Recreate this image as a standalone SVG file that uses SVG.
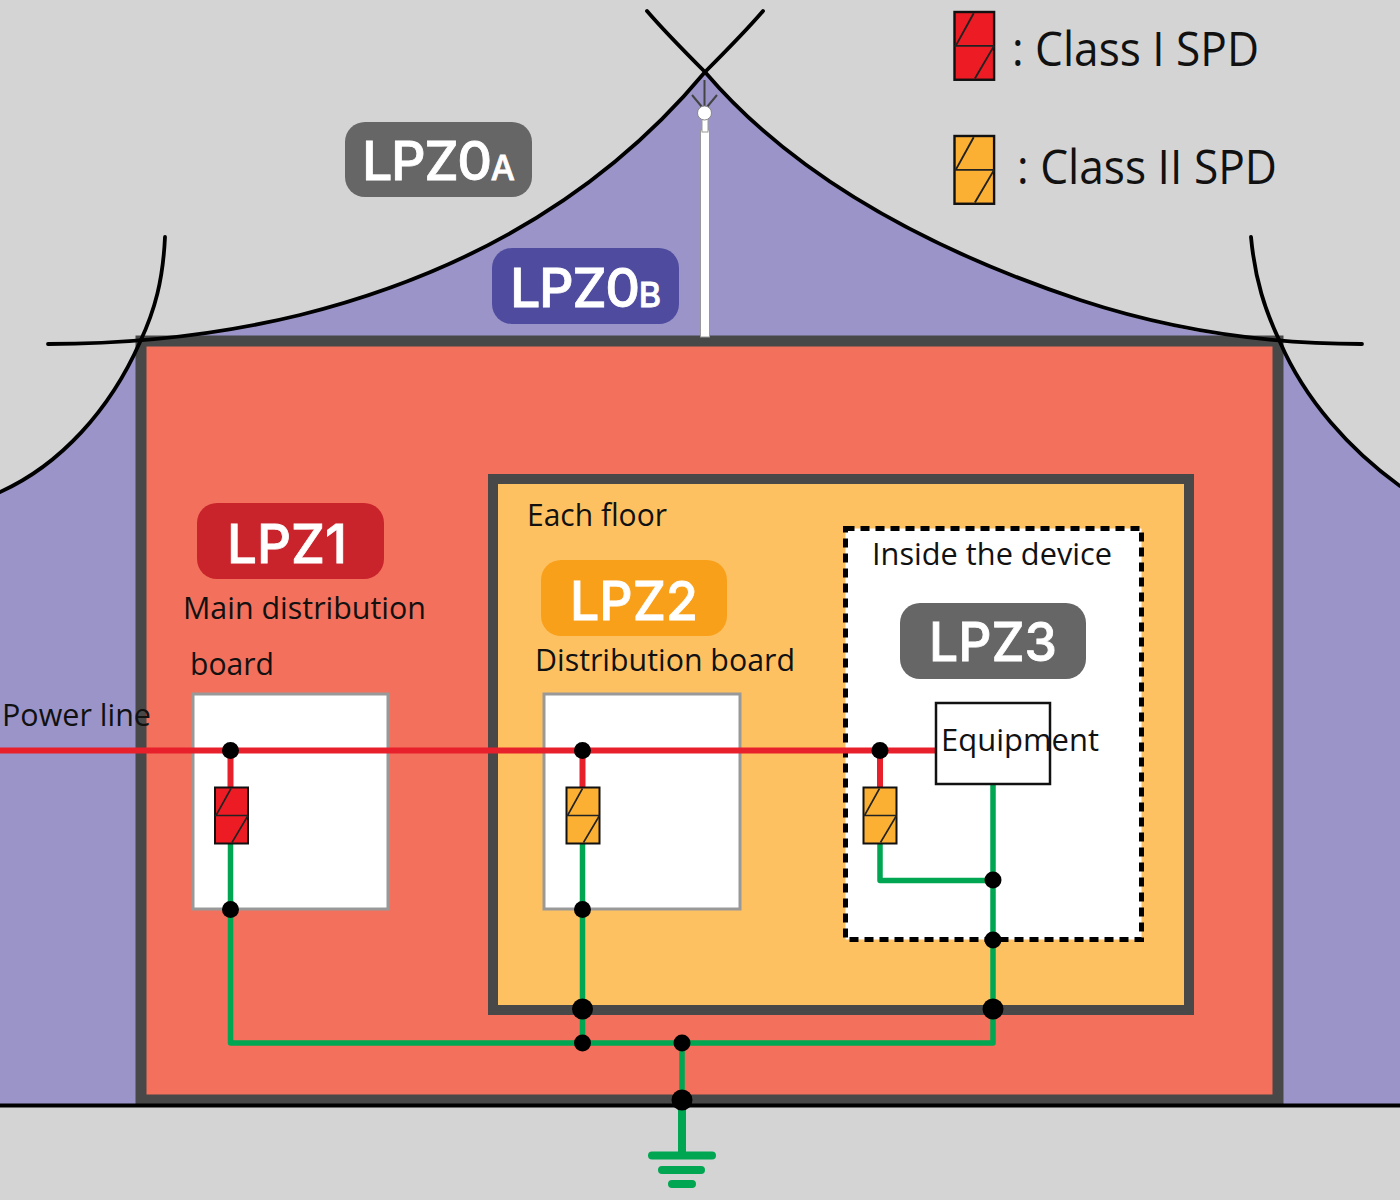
<svg xmlns="http://www.w3.org/2000/svg" width="1400" height="1200" viewBox="0 0 1400 1200">
<style>
.t{font-family:"Open Sans","Noto Sans","Liberation Sans",sans-serif;fill:#111;font-size:31px}
.lg{font-family:"Open Sans","Noto Sans","Liberation Sans",sans-serif;fill:#111;font-size:47px}
.b{font-family:Inter,"Liberation Sans",sans-serif;fill:#fff;font-size:54px;font-weight:500;stroke:#fff;stroke-width:.8}
.z{letter-spacing:-1.5px}
.s{font-size:34px}
.arc{fill:none;stroke:#000;stroke-width:3.800;stroke-linecap:round}
.r{fill:none;stroke:#e8202c;stroke-width:6}
.g{fill:none;stroke:#00a651;stroke-width:5.500;stroke-linejoin:round}
.spd{stroke:#111;stroke-width:2}
.diag{fill:none;stroke:#222;stroke-width:1.6}
.box{fill:#fff;stroke:#999;stroke-width:3}
</style>
<defs>
<g id="sym">
<rect class="spd" x="0" y="0" width="33" height="56"/>
<path class="diag" d="M0 28H33M16 1L1 28M33 28L17 55"/>
</g>
</defs>
<rect width="1400" height="1200" fill="#d4d4d4"/>
<g id="zone-lpz0b">
<path fill="#9a94c8" d="M705 72C640 150 520 260 300 315C230 332 180 338 140 342C110 410 60 465 0 492V1106H1400V486C1350 450 1305 400 1280 342C1220 338 1150 325 1080 300C900 240 780 160 705 72Z"/>
</g>
<g id="building">
<rect x="141" y="341" width="1137" height="759" fill="#f2705c" stroke="#484848" stroke-width="11"/>
</g>
<g id="floor">
<rect x="493" y="479" width="696" height="531" fill="#fec162" stroke="#484848" stroke-width="10"/>
</g>
<g id="device">
<rect x="845.500" y="528.500" width="296" height="411" fill="#fff" stroke="#000" stroke-width="5" stroke-dasharray="9 6"/>
</g>
<g id="arcs">
<path class="arc" d="M763 11C745 32 725 52 705 72C640 150 520 260 300 315C210 337 120 344 48 344"/>
<path class="arc" d="M647 11C665 32 685 52 705 72C780 160 900 240 1080 300C1180 333 1280 344 1362 344"/>
<path class="arc" d="M165 237C163 280 155 310 140 342C110 410 60 465 0 492"/>
<path class="arc" d="M1251 237C1255 280 1265 310 1280 342C1305 400 1350 450 1400 486"/>
<path d="M0 1105.500H1400" stroke="#000" stroke-width="4"/>
</g>
<g id="rod">
<rect x="700.500" y="130" width="9" height="207" fill="#fff" stroke="#999" stroke-width="1"/>
<rect x="702" y="118" width="6" height="14" fill="#fff" stroke="#999" stroke-width="1"/>
<path d="M704.500 80V106M692 95L702 107M717 95L707 107" stroke="#444" stroke-width="2" fill="none"/>
<circle cx="704.500" cy="113" r="7" fill="#fff" stroke="#888"/>
</g>
<g id="board-main"><rect class="box" x="193" y="694" width="195" height="215"/></g>
<g id="board-dist"><rect class="box" x="544" y="694" width="196" height="215"/></g>
<g id="connectors">
<path class="r" d="M0 750.500H936M230.500 750V790M582.500 750V790M880 750V790"/>
<path class="g" d="M230.500 842V1043H993V784M582.500 842V1043M880 842V880.500H993M682 1043V1105"/>
<path d="M682 1105V1155" stroke="#00a651" stroke-width="8" fill="none"/>
<path d="M652 1155.500H712M662 1170H701M672 1184H692" stroke="#00a651" stroke-width="8" stroke-linecap="round" fill="none"/>
<g fill="#000">
<circle cx="230.500" cy="750.500" r="8.500"/><circle cx="582.500" cy="750.500" r="8.500"/><circle cx="880" cy="750.500" r="8.500"/>
<circle cx="230.500" cy="909.500" r="8.500"/><circle cx="582.500" cy="909.500" r="8.500"/><circle cx="993" cy="880" r="8.500"/><circle cx="993" cy="940" r="8.500"/>
<circle cx="582.500" cy="1009" r="10.500"/><circle cx="993" cy="1009" r="10.500"/>
<circle cx="582.500" cy="1043" r="8.500"/><circle cx="682" cy="1043" r="8.500"/><circle cx="682" cy="1100" r="10.500"/>
</g>
</g>
<g id="equipment">
<rect x="936" y="703" width="114" height="81" fill="#fff" stroke="#111" stroke-width="2.500"/>
<text class="t" x="941" y="751" textLength="158" lengthAdjust="spacingAndGlyphs">Equipment</text>
</g>
<g id="spd-1"><use href="#sym" x="215" y="787.500" fill="#ed1c24"/></g>
<g id="spd-2"><use href="#sym" x="566.500" y="787.500" fill="#fbb034"/></g>
<g id="spd-3"><use href="#sym" x="863.500" y="787.500" fill="#fbb034"/></g>
<g id="legend-class1">
<g transform="translate(954.500 12) scale(1.2 1.21)"><use href="#sym" fill="#ed1c24"/></g>
<text class="lg" x="1012" y="66" textLength="247" lengthAdjust="spacingAndGlyphs">: Class I SPD</text>
</g>
<g id="legend-class2">
<g transform="translate(954.500 136) scale(1.2 1.21)"><use href="#sym" fill="#fbb034"/></g>
<text class="lg" x="1017" y="184" textLength="260" lengthAdjust="spacingAndGlyphs">: Class II SPD</text>
</g>
<g id="lpz0a">
<rect x="345" y="122" width="187" height="75" rx="20" fill="#666"/>
<text class="b z" x="362" y="180">LPZ0<tspan class="s">A</tspan></text>
</g>
<g id="lpz0b">
<rect x="492" y="248" width="187" height="76" rx="20" fill="#4f4b9f"/>
<text class="b z" x="510" y="307">LPZ0<tspan class="s">B</tspan></text>
</g>
<g id="lpz1">
<rect x="197" y="503" width="187" height="76" rx="20" fill="#c9242b"/>
<text class="b" x="227" y="563" textLength="120" lengthAdjust="spacingAndGlyphs">LPZ1</text>
</g>
<g id="lpz2">
<rect x="541" y="560" width="186" height="76" rx="20" fill="#f9a01b"/>
<text class="b" x="570" y="620" textLength="128" lengthAdjust="spacingAndGlyphs">LPZ2</text>
</g>
<g id="lpz3">
<rect x="900" y="603" width="186" height="76" rx="20" fill="#666"/>
<text class="b" x="929" y="661" textLength="128" lengthAdjust="spacingAndGlyphs">LPZ3</text>
</g>
<g id="labels">
<text class="t" x="2" y="726" textLength="149" lengthAdjust="spacingAndGlyphs">Power line</text>
<text class="t" x="183" y="619" textLength="243" lengthAdjust="spacingAndGlyphs">Main distribution</text>
<text class="t" x="190" y="675" textLength="84" lengthAdjust="spacingAndGlyphs">board</text>
<text class="t" x="527" y="526" textLength="140" lengthAdjust="spacingAndGlyphs">Each floor</text>
<text class="t" x="535" y="671" textLength="260" lengthAdjust="spacingAndGlyphs">Distribution board</text>
<text class="t" x="872" y="565" textLength="240" lengthAdjust="spacingAndGlyphs">Inside the device</text>
</g>
</svg>
